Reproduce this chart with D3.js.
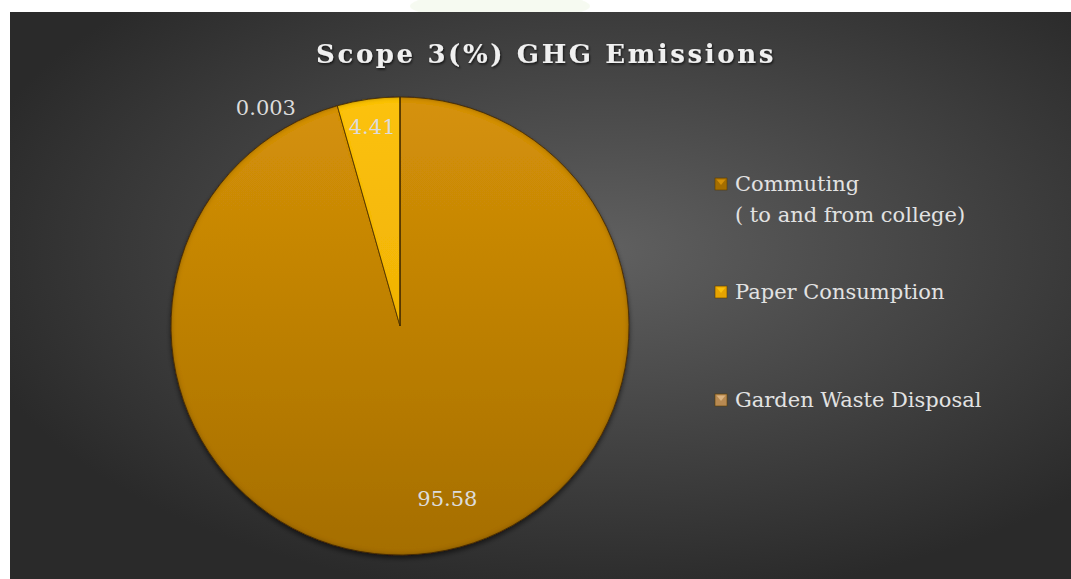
<!DOCTYPE html>
<html>
<head>
<meta charset="utf-8">
<script src="https://cdn.jsdelivr.net/npm/d3@7"></script>
<style>
  body { margin: 0; background: #fff; overflow: hidden; }
  text { font-family: "Palatino Linotype", "Book Antiqua", Palatino, "DejaVu Serif", serif; }
</style>
</head>
<body>
<script>
// Scope 3 pie
var categories = ["Commuting", "Paper Consumption", "Garden Waste Disposal"];
var legendLines = [["Commuting", "( to and from college)"], ["Paper Consumption"], ["Garden Waste Disposal"]];
var values = [95.58, 4.41, 0.003];
var valueLabels = ["95.58", "4.41", "0.003"];

var width = 1071,
    height = 579;

var svg = d3.select("body")
    .append("svg")
    .attr("width", width)
    .attr("height", height);

var defs = svg.append("defs");

// background gradient of the chart area
var bg = defs.append("radialGradient")
    .attr("id", "bgGrad")
    .attr("cx", "56%").attr("cy", "42%").attr("r", "62%");
bg.append("stop").attr("offset", "0%").attr("stop-color", "#606060");
bg.append("stop").attr("offset", "100%").attr("stop-color", "#2a2a2a");

// slice fills (top lighter, bottom darker)
var sliceCols = [["#d69208", "#a56e00"], ["#fcc20a", "#e6a300"], ["#dcb482", "#b88a52"]];
sliceCols.forEach(function(c, i){
    var g = defs.append("linearGradient")
        .attr("id", "slice" + i)
        .attr("gradientUnits", "userSpaceOnUse")
        .attr("x1", 0).attr("y1", -230).attr("x2", 0).attr("y2", 230);
    g.append("stop").attr("offset", "0%").attr("stop-color", c[0]);
    g.append("stop").attr("offset", "100%").attr("stop-color", c[1]);
});

// bevel: dark inner edge + outer drop shadow
var bevel = defs.append("filter").attr("id", "bevel")
    .attr("x", "-10%").attr("y", "-10%").attr("width", "120%").attr("height", "120%");
bevel.append("feGaussianBlur").attr("in", "SourceAlpha").attr("stdDeviation", 2.5).attr("result", "blur");
bevel.append("feComposite").attr("in", "SourceAlpha").attr("in2", "blur").attr("operator", "out").attr("result", "edge");
bevel.append("feFlood").attr("flood-color", "#3a2500").attr("flood-opacity", 0.8).attr("result", "dark");
bevel.append("feComposite").attr("in", "dark").attr("in2", "edge").attr("operator", "in").attr("result", "darkEdge");
bevel.append("feOffset").attr("in", "blur").attr("dx", 0).attr("dy", 3).attr("result", "shOff");
bevel.append("feFlood").attr("flood-color", "#000").attr("flood-opacity", 0.55).attr("result", "shCol");
bevel.append("feComposite").attr("in", "shCol").attr("in2", "shOff").attr("operator", "in").attr("result", "shadow");
var merge = bevel.append("feMerge");
merge.append("feMergeNode").attr("in", "shadow");
merge.append("feMergeNode").attr("in", "SourceGraphic");
merge.append("feMergeNode").attr("in", "darkEdge");

var textShadow = defs.append("filter").attr("id", "tshadow");
textShadow.append("feDropShadow").attr("dx", 1).attr("dy", 1.5).attr("stdDeviation", 1)
    .attr("flood-color", "#000").attr("flood-opacity", 0.7);

// faint slide decoration above the chart
svg.append("ellipse")
    .attr("cx", 500).attr("cy", 6).attr("rx", 90).attr("ry", 14)
    .attr("fill", "#e4f2d6").attr("opacity", 0.35);

// chart area
svg.append("rect")
    .attr("x", 10).attr("y", 12)
    .attr("width", width - 10).attr("height", height - 12)
    .attr("fill", "url(#bgGrad)");

// title
svg.append("text")
    .attr("x", 546).attr("y", 63)
    .attr("text-anchor", "middle")
    .attr("font-size", 26)
    .attr("font-weight", "bold")
    .attr("letter-spacing", 2.6)
    .attr("fill", "#f0f0f0")
    .attr("filter", "url(#tshadow)")
    .text("Scope 3(%) GHG Emissions");

// pie
var cx = 400, cy = 326, radius = 229;

var pie = d3.pie().sort(null).value(function(d){ return d; });
var arcs = pie(values);

var arc = d3.arc().innerRadius(0).outerRadius(radius);

var pieG = svg.append("g")
    .attr("transform", "translate(" + cx + "," + cy + ")");

var slices = pieG.append("g").attr("filter", "url(#bevel)");
slices.selectAll(".slice")
    .data(arcs)
    .enter()
    .append("path")
    .attr("class", "slice")
    .attr("d", arc)
    .attr("fill", function(d, i){ return "url(#slice" + i + ")"; })
    .attr("stroke", "#4a3000")
    .attr("stroke-width", 0.8);

// data labels: radius factor and angle shift per slice, as Excel placed them
var labelRad = [0.78, 0.88, 1.12];
var labelShift = [-0.13, 0, -0.55];
pieG.selectAll(".vlabel")
    .data(arcs)
    .enter()
    .append("text")
    .attr("class", "vlabel")
    .attr("x", function(d, i){
        var a = (d.startAngle + d.endAngle) / 2 + labelShift[i];
        return Math.sin(a) * radius * labelRad[i];
    })
    .attr("y", function(d, i){
        var a = (d.startAngle + d.endAngle) / 2 + labelShift[i];
        return -Math.cos(a) * radius * labelRad[i];
    })
    .attr("dy", "0.35em")
    .attr("text-anchor", "middle")
    .attr("font-size", 21)
    .attr("fill", "#dcdcdc")
    .text(function(d, i){ return valueLabels[i]; });

// legend
var legendY = d3.scalePoint()
    .domain(categories)
    .range([184, 400]);

var legend = svg.selectAll(".legend")
    .data(categories)
    .enter()
    .append("g")
    .attr("class", "legend")
    .attr("transform", function(d){ return "translate(715," + legendY(d) + ")"; });

legend.append("rect")
    .attr("x", 0).attr("y", -6)
    .attr("width", 12).attr("height", 12)
    .attr("fill", function(d, i){ return sliceCols[i][1]; })
    .attr("stroke", "#5a3c00")
    .attr("stroke-width", 0.6);

legend.append("path")
    .attr("d", "M1.5,-4.5 L10.5,-4.5 L6,1 Z")
    .attr("fill", function(d, i){ return sliceCols[i][0]; })
    .attr("opacity", 0.95);

legend.append("text")
    .attr("x", 20)
    .attr("y", 0)
    .attr("font-size", 21)
    .attr("fill", "#e2e2e2")
    .selectAll("tspan")
    .data(function(d, i){ return legendLines[i]; })
    .enter()
    .append("tspan")
    .attr("x", 20)
    .attr("dy", function(d, j){ return j === 0 ? "0.35em" : "1.45em"; })
    .text(function(d){ return d; });
</script>
</body>
</html>
